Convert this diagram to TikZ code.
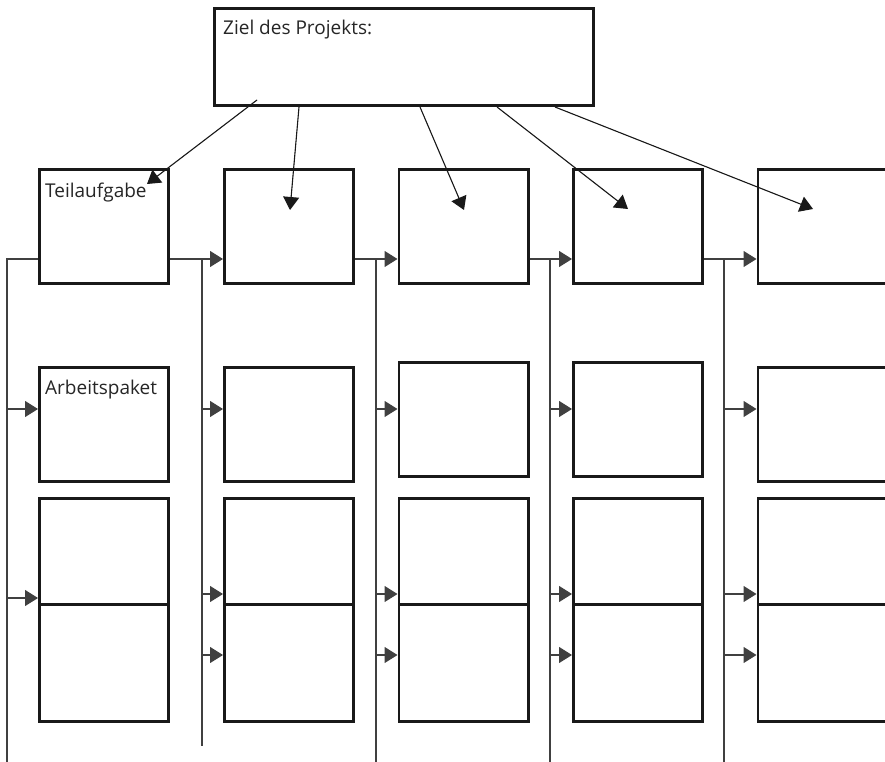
\documentclass[tikz,border=0pt]{standalone}
\usepackage{fontspec}
\setmainfont{Open Sans}
\usetikzlibrary{arrows.meta, positioning}
\tikzset{>={Triangle[length=13pt,width=16pt]},
box/.style={draw=black!90, line width=2.8pt, fill=white, inner sep=0,
  minimum width=129.2pt, minimum height=114.2pt},
%lower/.style={minimum height=117pt},
lbl/.style={anchor=base west, inner sep=0, font=\fontsize{19}{23}\selectfont, text=black!85},
link/.style={->, line width=1.1pt, draw=black!75, fill=black!90},
rail/.style={line width=1.1pt, draw=black!75}}

\begin{document}
\begin{tikzpicture}[x=1pt,y=-1pt]
\useasboundingbox (0,0) rectangle (885,762);

% Ziel
\node[box, minimum width=379.2pt, minimum height=97.2pt] (ziel) at (404,57) {};
\node[lbl, xshift=10, yshift=-28] (zieltxt) at (ziel.north west) {Ziel des Projekts:};

% Teilaufgaben
\node[box] (t1) at (104,226.5) {};
\node[box] (t2) at (289,226.5) {};
\node[box] (t3) at (463.5,226.5) {};
\node[box] (t4) at (638,226.5) {};
\node[box] (t5) at (822.5,226.5) {};
\node[lbl, xshift=7, yshift=-29] (t1txt) at (t1.north west) {Teilaufgabe};

% Arbeitspakete
\node[box] (a1) at (104,424.5) {};
\node[box] (a2) at (289,424.5) {};
\node[box] (a3) at (463.5,419.5) {};
\node[box] (a4) at (638,419.5) {};
\node[box] (a5) at (822.5,424.5) {};
\node[lbl, xshift=7, yshift=-28] (a1txt) at (a1.north west) {Arbeitspaket};

\node[box, minimum height=116.2pt] (b1) at (104,556.5) {};
\node[box, minimum height=116.2pt] (b2) at (289,556.5) {};
\node[box, minimum height=116.2pt] (b3) at (463.5,556.5) {};
\node[box, minimum height=116.2pt] (b4) at (638,556.5) {};
\node[box, minimum height=116.2pt] (b5) at (822.5,556.5) {};
\node[box, minimum height=117.2pt] (c1) at (104,663) {};
\node[box, minimum height=117.2pt] (c2) at (289,663) {};
\node[box, minimum height=117.2pt] (c3) at (463.5,663) {};
\node[box, minimum height=117.2pt] (c4) at (638,663) {};
\node[box, minimum height=117.2pt] (c5) at (822.5,663) {};

% rails and levels
\coordinate (v1) at (7,259);   \coordinate (w1) at (7,762);
\coordinate (v2) at (202,259); \coordinate (w2) at (202,746);
\coordinate (v3) at (376,259); \coordinate (w3) at (376,762);
\coordinate (v4) at (550,259); \coordinate (w4) at (550,762);
\coordinate (v5) at (724,259); \coordinate (w5) at (724,762);
\coordinate (ya) at (0,409);
\coordinate (yb) at (0,594);
\coordinate (yc) at (0,655);
\coordinate (yd) at (0,598);

\draw[rail] (t1.west |- v1) -- (v1) -- (w1);
\draw[rail] (v2) -- (w2);
\draw[rail] (v3) -- (w3);
\draw[rail] (v4) -- (w4);
\draw[rail] (v5) -- (w5);
\draw[link] (t1.east |- v2) -- (t2.west |- v2);
\draw[link] (t2.east |- v3) -- (t3.west |- v3);
\draw[link] (t3.east |- v4) -- (t4.west |- v4);
\draw[link] (t4.east |- v5) -- (t5.west |- v5);

\draw[link] (v1 |- ya) -- (a1.west |- ya);
\draw[link] (v2 |- ya) -- (a2.west |- ya);
\draw[link] (v3 |- ya) -- (a3.west |- ya);
\draw[link] (v4 |- ya) -- (a4.west |- ya);
\draw[link] (v5 |- ya) -- (a5.west |- ya);

\draw[link] (v1 |- yd) -- (b1.west |- yd);
\draw[link] (v2 |- yb) -- (b2.west |- yb);
\draw[link] (v3 |- yb) -- (b3.west |- yb);
\draw[link] (v4 |- yb) -- (b4.west |- yb);
\draw[link] (v5 |- yb) -- (b5.west |- yb);
\draw[link] (v2 |- yc) -- (c2.west |- yc);
\draw[link] (v3 |- yc) -- (c3.west |- yc);
\draw[link] (v4 |- yc) -- (c4.west |- yc);
\draw[link] (v5 |- yc) -- (c5.west |- yc);

% from Ziel to the Teilaufgaben
\coordinate (s1) at (257,100); \coordinate (e1) at (147,184);
\coordinate (s2) at (299,107); \coordinate (e2) at (290,210);
\coordinate (s3) at (420,107); \coordinate (e3) at (464,210);
\coordinate (s4) at (497,107); \coordinate (e4) at (628,209);
\coordinate (s5) at (555,107); \coordinate (e5) at (813,209);
\draw[link, draw=black!90] (s1) -- (e1);
\draw[link, draw=black!90] (s2) -- (e2);
\draw[link, draw=black!90] (s3) -- (e3);
\draw[link, draw=black!90] (s4) -- (e4);
\draw[link, draw=black!90] (s5) -- (e5);
\end{tikzpicture}
\end{document}
